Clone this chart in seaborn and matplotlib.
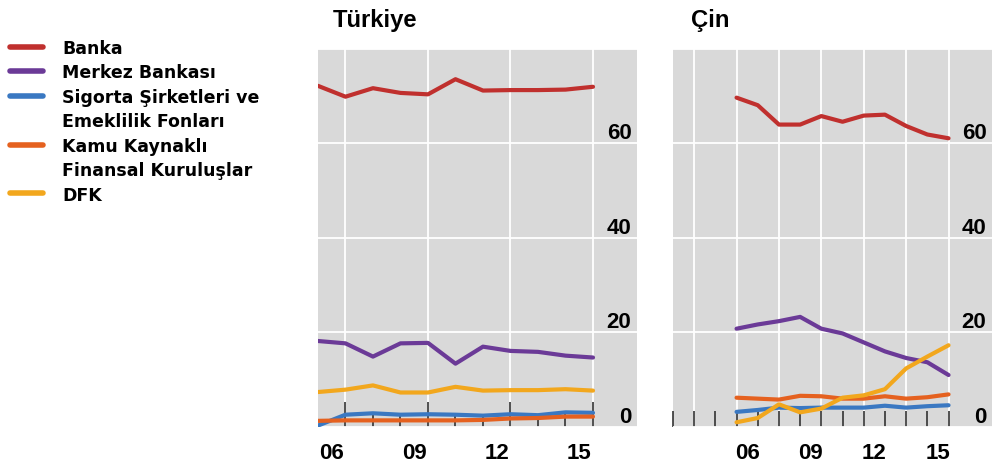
import matplotlib
matplotlib.use("Agg")
import matplotlib.pyplot as plt
from matplotlib.lines import Line2D
import seaborn as sns
import pandas as pd

sns.set_style("white")
plt.rcParams['font.family'] = ['Liberation Sans', 'DejaVu Sans']
plt.rcParams['text.color'] = 'black'
plt.rcParams['xtick.labelcolor'] = 'black'
plt.rcParams['ytick.labelcolor'] = 'black'

# Veri (yıl sonu payları, %)
yillar = list(range(2005, 2016))
kurulus_adlari = ['Banka', 'Merkez Bankası', 'Sigorta Şirketleri ve Emeklilik Fonları',
                  'Kamu Kaynaklı Finansal Kuruluşlar', 'DFK']
renkler = ['#C0302E', '#6B3A97', '#3A78C2', '#E5611F', '#F2A71D']

tr_banka = [72.2, 69.9, 71.7, 70.7, 70.4, 73.6, 71.2, 71.3, 71.3, 71.4, 72.0]
tr_merkez = [18.2, 17.7, 14.9, 17.7, 17.8, 13.4, 17.0, 16.1, 15.9, 15.1, 14.7]
tr_sigorta = [0.3, 2.6, 2.9, 2.6, 2.7, 2.6, 2.4, 2.7, 2.5, 3.1, 3.0]
tr_kamu = [1.3, 1.4, 1.4, 1.4, 1.4, 1.4, 1.5, 1.8, 1.9, 2.2, 2.2]
tr_dfk = [7.4, 7.9, 8.8, 7.3, 7.3, 8.5, 7.7, 7.8, 7.8, 8.0, 7.7]

cn_banka = [69.7, 68.1, 64.0, 64.0, 65.8, 64.6, 65.9, 66.1, 63.7, 61.9, 61.1]
cn_merkez = [20.8, 21.7, 22.4, 23.3, 20.8, 19.8, 17.9, 16.0, 14.6, 13.7, 11.0]
cn_sigorta = [3.2, 3.6, 4.1, 4.0, 4.1, 4.1, 4.1, 4.5, 4.1, 4.4, 4.6]
cn_kamu = [6.2, 6.0, 5.8, 6.6, 6.5, 6.0, 6.0, 6.5, 6.0, 6.3, 6.9]
cn_dfk = [1.0, 1.9, 4.8, 3.1, 3.9, 6.2, 6.7, 8.0, 12.4, 14.9, 17.3]

x_etiketleri = ['06', '09', '12', '15']
y_degerleri = [0, 20, 40, 60, 80]
y_etiketleri = ['0', '20', '40', '60', '']


def uzun_tablo(seriler):
    satirlar = []
    for ad, degerler in zip(kurulus_adlari, seriler):
        for yil, v in zip(yillar, degerler):
            satirlar.append({'Yil': yil, 'Pay': v, 'Kurulus': ad})
    return pd.DataFrame(satirlar)


df_tr = uzun_tablo([tr_banka, tr_merkez, tr_sigorta, tr_kamu, tr_dfk])
df_cn = uzun_tablo([cn_banka, cn_merkez, cn_sigorta, cn_kamu, cn_dfk])

fig = plt.figure(figsize=(9.93, 4.64), dpi=100)
ax_tr = fig.add_axes([0.3202, 0.0776, 0.3213, 0.8147])
ax_cn = fig.add_axes([0.6777, 0.0776, 0.3213, 0.8147])

paneller = [
    (ax_tr, df_tr, 'Türkiye', (2005, 2016.6), yillar[1::3], yillar[1:], 18, 9.5, 0.045),
    (ax_cn, df_cn, 'Çin', (2002, 2017.05), list(range(2003, 2016, 2)),
     list(range(2002, 2016)), 11.5, 11.5, 0.056),
]

for ax, df, baslik, xlim, grid_yillar, tik_yillar, uzun, kisa, bx in paneller:
    ax.set_facecolor('#D9D9D9')
    ax.set_axisbelow(True)
    sns.lineplot(data=df, x='Yil', y='Pay', hue='Kurulus', hue_order=kurulus_adlari,
                 palette=renkler, linewidth=3, legend=False, ax=ax)
    ax.set_xlim(*xlim)
    ax.set_ylim(0, 80)
    ax.set_xlabel('')
    ax.set_ylabel('')
    for s in ax.spines.values():
        s.set_visible(False)

    # dikey ızgara + içe dönük tikler
    ax.set_xticks(grid_yillar)
    ax.set_xticks(tik_yillar, minor=True)
    ax.tick_params(axis='x', which='major', bottom=True, direction='in', length=uzun,
                   width=1.2, color='#333333', labelbottom=False)
    ax.tick_params(axis='x', which='minor', bottom=True, direction='in', length=kisa,
                   width=1.2, color='#333333')
    ax.grid(axis='x', which='major', color='white', linewidth=1.3)

    # yıl etiketleri ayrı eksende (yılın ortasında)
    sec = ax.secondary_xaxis('bottom')
    sec.set_xticks([y - 0.5 for y in yillar[1::3]], x_etiketleri)
    sec.tick_params(length=0, pad=10.5, labelsize=16, labelcolor='black')
    for lab in sec.get_xticklabels():
        lab.set_fontweight('bold')
    for s in sec.spines.values():
        s.set_visible(False)

    # y etiketleri panelin içinde, sağda
    ax.yaxis.tick_right()
    ax.set_yticks(y_degerleri, y_etiketleri)
    ax.tick_params(axis='y', length=0, pad=-4, labelsize=16, labelcolor='black')
    for lab in ax.get_yticklabels():
        lab.set_horizontalalignment('right')
        lab.set_verticalalignment('bottom')
        lab.set_fontweight('bold')
    ax.grid(axis='y', color='white', linewidth=1.3)

    ax.text(bx, 1 + 23 / 378, baslik, transform=ax.transAxes, ha='left', va='baseline',
            fontsize=17.2, fontweight='bold', color='black')

# lejant: çok satırlı girişler için boş tutamaç
etiketler = ['Banka', 'Merkez Bankası', 'Sigorta Şirketleri ve', 'Emeklilik Fonları',
             'Kamu Kaynaklı', 'Finansal Kuruluşlar', 'DFK']
tutamac_renk = [renkler[0], renkler[1], renkler[2], 'none', renkler[3], 'none', renkler[4]]
tutamaclar = [Line2D([], [], color=c, linewidth=4) for c in tutamac_renk]
fig.legend(tutamaclar, etiketler, loc='upper left', bbox_to_anchor=(10 / 993, 1 - 40 / 464),
           frameon=False, borderpad=0, borderaxespad=0, handlelength=1.9,
           handletextpad=1.1, labelspacing=0.37, labelcolor='black',
           prop={'family': 'DejaVu Sans', 'weight': 'bold', 'size': 12.5})

fig.savefig('out.png', dpi=100, facecolor='white')
